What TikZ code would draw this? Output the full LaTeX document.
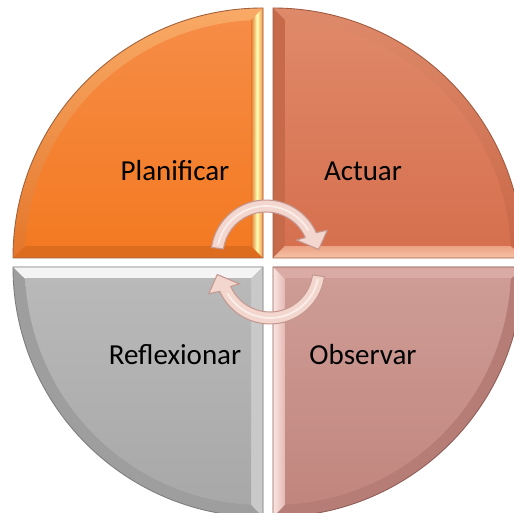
\documentclass[tikz,border=0pt]{standalone}
\usepackage{fontspec}
\setmainfont{Carlito}

\definecolor{tlfaceA}{HTML}{F68D48}
\definecolor{tlfaceB}{HTML}{F37A22}
\definecolor{tlarcA}{HTML}{F9AA66}
\definecolor{tlarcB}{HTML}{E4762A}
\definecolor{tlbottom}{HTML}{DE6C1E}
\definecolor{tlline}{HTML}{A0603A}
\definecolor{trfaceA}{HTML}{E08A6A}
\definecolor{trfaceB}{HTML}{D6704E}
\definecolor{trarcA}{HTML}{DE8A6A}
\definecolor{trarcB}{HTML}{C86646}
\definecolor{trleft}{HTML}{C66A4A}
\definecolor{trbottomA}{HTML}{F6C2A6}
\definecolor{trbottomB}{HTML}{EBA284}
\definecolor{trline}{HTML}{A05A40}
\definecolor{blfaceA}{HTML}{B9B9B9}
\definecolor{blfaceB}{HTML}{A7A7A7}
\definecolor{blarc}{HTML}{9E9E9E}
\definecolor{bltop}{HTML}{F4F4F4}
\definecolor{blright}{HTML}{C9C9C9}
\definecolor{blline}{HTML}{7E7E7E}
\definecolor{brfaceA}{HTML}{CE9C95}
\definecolor{brfaceB}{HTML}{C0857D}
\definecolor{brarc}{HTML}{B57D75}
\definecolor{brtop}{HTML}{D9ABA4}
\definecolor{brleftA}{HTML}{FBE6E2}
\definecolor{brleftB}{HTML}{E4B8B2}
\definecolor{brline}{HTML}{8E5E58}
\definecolor{arrowfill}{HTML}{F3D6CE}
\definecolor{arrowline}{HTML}{C49890}

\tikzset{
  quadline/.style={line width=0.5pt},
  steptext/.style={font=\fontsize{16.5}{20}\selectfont, text=black, inner sep=0pt},
  cyclearrow/.style={fill=arrowfill, draw=arrowline, line width=0.6pt}
}

\begin{document}
\begin{tikzpicture}[x=0.02cm, y=0.02cm]
  \useasboundingbox (0,0) rectangle (514,513);
  \clip (0,0) rectangle (514,513);

  % top left quarter
  \shade[top color=tlarcA, bottom color=tlarcB] (263,255) -- (13,255)
    arc[start angle=180, end angle=90, radius=250] -- cycle;
  \fill[tlbottom] (263,255) -- (13,255) -- (25.3,267) -- (251,267) -- cycle;
  \shade[left color=tlarcB, right color=tlfaceA, middle color=yellow!30!white]
    (263,255) -- (263,505) -- (251,492.7) -- (251,267) -- cycle;
  \begin{scope}
    \clip (263,255) circle[radius=238];
    \shade[top color=tlfaceA, bottom color=tlfaceB] (13,267) rectangle (251,505);
  \end{scope}
  \draw[quadline, tlline] (263,255) -- (13,255)
    arc[start angle=180, end angle=90, radius=250] -- cycle;

  % top right quarter
  \shade[top color=trarcA, bottom color=trarcB] (273,255) -- (273,505)
    arc[start angle=90, end angle=0, radius=250] -- cycle;
  \fill[trleft] (273,255) -- (273,505) -- (285,492.7) -- (285,267) -- cycle;
  \shade[top color=trbottomB, bottom color=trbottomA]
    (273,255) -- (523,255) -- (510.7,267) -- (285,267) -- cycle;
  \begin{scope}
    \clip (273,255) circle[radius=238];
    \shade[top color=trfaceA, bottom color=trfaceB] (285,267) rectangle (523,505);
  \end{scope}
  \draw[quadline, trline] (273,255) -- (273,505)
    arc[start angle=90, end angle=0, radius=250] -- cycle;

  % bottom left quarter
  \fill[blarc] (263,246) -- (13,246)
    arc[start angle=180, end angle=270, radius=250] -- cycle;
  \fill[bltop] (263,246) -- (13,246) -- (25.3,234) -- (251,234) -- cycle;
  \fill[blright] (263,246) -- (263,-4) -- (251,8.3) -- (251,234) -- cycle;
  \begin{scope}
    \clip (263,246) circle[radius=238];
    \shade[top color=blfaceA, bottom color=blfaceB] (13,-4) rectangle (251,234);
  \end{scope}
  \draw[quadline, blline] (263,246) -- (13,246)
    arc[start angle=180, end angle=270, radius=250] -- cycle;

  % bottom right quarter
  \fill[brarc] (273,246) -- (273,-4)
    arc[start angle=270, end angle=360, radius=250] -- cycle;
  \fill[brtop] (273,246) -- (523,246) -- (510.7,234) -- (285,234) -- cycle;
  \shade[left color=brleftA, right color=brleftB]
    (273,246) -- (273,-4) -- (285,8.3) -- (285,234) -- cycle;
  \begin{scope}
    \clip (273,246) circle[radius=238];
    \shade[top color=brfaceA, bottom color=brfaceB] (285,-4) rectangle (523,234);
  \end{scope}
  \draw[quadline, brline] (273,246) -- (273,-4)
    arc[start angle=270, end angle=360, radius=250] -- cycle;

  % labels
  \node[steptext, anchor=base] (plan) at (175,332) {Planificar};
  \node[steptext, anchor=base] (act) at (363,332) {Actuar};
  \node[steptext, anchor=base] (refl) at (175,148) {Reflexionar};
  \node[steptext, anchor=base] (obs) at (363,148) {Observar};

  % cycle arrows
  \begin{scope}[shift={(266,258)}]
    \draw[cyclearrow] (172:55) arc[start angle=172, end angle=24, radius=55]
      -- (22:66) -- (6:53) -- (26:34) -- (24:43)
      arc[start angle=24, end angle=172, radius=43] -- cycle;
    \draw[white, opacity=0.6, line width=1pt] (168:49) arc[start angle=168, end angle=30, radius=49];
  \end{scope}
  \begin{scope}[shift={(270,244)}, rotate=180]
    \draw[cyclearrow] (172:55) arc[start angle=172, end angle=24, radius=55]
      -- (22:66) -- (6:53) -- (26:34) -- (24:43)
      arc[start angle=24, end angle=172, radius=43] -- cycle;
    \draw[white, opacity=0.6, line width=1pt] (168:49) arc[start angle=168, end angle=30, radius=49];
  \end{scope}
\end{tikzpicture}
\end{document}
